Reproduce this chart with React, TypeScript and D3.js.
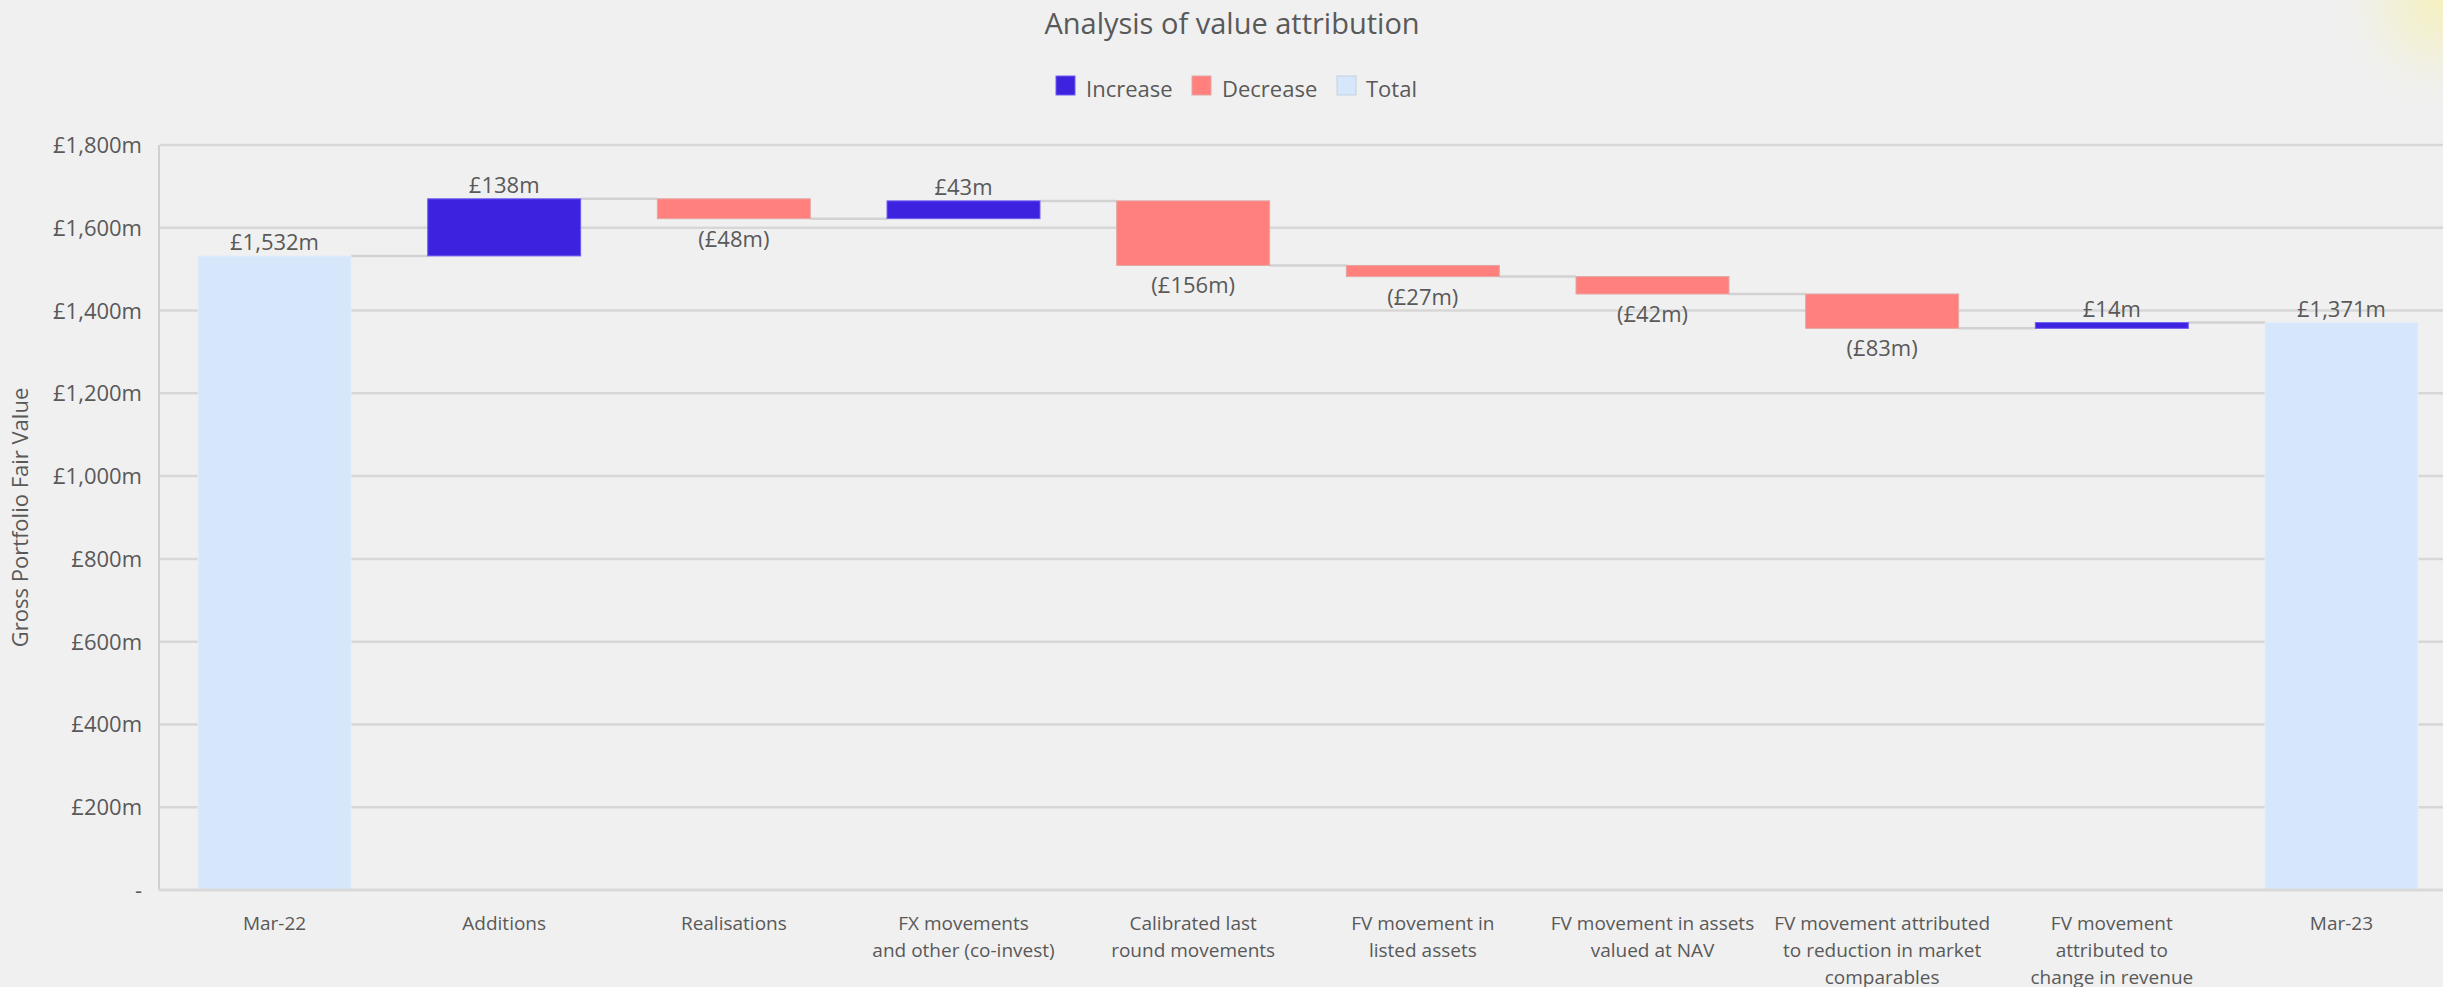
import React from "react";
import * as d3 from "d3";

// Waterfall of gross portfolio fair value, Mar-22 to Mar-23 (£m)
const categories: string[][] = [
  ["Mar-22"],
  ["Additions"],
  ["Realisations"],
  ["FX movements", "and other (co-invest)"],
  ["Calibrated last", "round movements"],
  ["FV movement in", "listed assets"],
  ["FV movement in assets", "valued at NAV"],
  ["FV movement attributed", "to reduction in market", "comparables"],
  ["FV movement", "attributed to", "change in revenue"],
  ["Mar-23"],
];
const values: number[] = [1532, 138, -48, 43, -156, -27, -42, -83, 14, 1371];
const kinds: string[] = ["total", "delta", "delta", "delta", "delta", "delta", "delta", "delta", "delta", "total"];
const yTicks: number[] = [0, 200, 400, 600, 800, 1000, 1200, 1400, 1600, 1800];
const legendItems: string[] = ["Increase", "Decrease", "Total"];

const W = 2443;
const H = 987;
const FONT = "'Open Sans', 'Noto Sans', sans-serif";
const TEXT = "#595959";
const COLORS: Record<string, string> = {
  Increase: "#3d23e0",
  Decrease: "#ff807c",
  Total: "#d6e7fc",
};
const STROKES: Record<string, string> = {
  Increase: "#6f5ef0",
  Decrease: "#e3a6a4",
  Total: "#e6eef8",
};

const fmtNum = d3.format(",");

export default function App() {
  const ids = categories.map((_, i) => String(i));
  const x = d3
    .scaleBand<string>()
    .domain(ids)
    .range([159, 2457])
    .paddingInner(0.334)
    .paddingOuter(0.17);
  const y = d3.scaleLinear().domain([0, 1800]).range([890, 145]);

  // running totals for each step
  let running = 0;
  const bars = values.map((v, i) => {
    let start: number, end: number, type: string;
    if (kinds[i] === "total") {
      start = 0;
      end = v;
      running = v;
      type = "Total";
    } else {
      start = running;
      end = running + v;
      running = end;
      type = v >= 0 ? "Increase" : "Decrease";
    }
    return { id: ids[i], value: v, start, end, type, kind: kinds[i] };
  });

  const bw = x.bandwidth();

  const label = (b: (typeof bars)[number]) => {
    if (b.kind === "total") return "£" + fmtNum(b.value) + "m";
    if (b.value < 0) return "(£" + fmtNum(-b.value) + "m)";
    return "£" + fmtNum(b.value) + "m";
  };

  const legendX = [1056, 1192, 1337];
  const legendTextX = [1086, 1222, 1366];

  return (
    <svg
      width={W}
      height={H}
      style={{ position: "absolute", left: 0, top: 0, display: "block" }}
      fontFamily={FONT}
    >
      <defs>
        <radialGradient id="glow" cx={W} cy={0} r={115} gradientUnits="userSpaceOnUse">
          <stop offset="0" stopColor="#f5f1bf" stopOpacity={1} />
          <stop offset="0.45" stopColor="#f3f0d2" stopOpacity={0.75} />
          <stop offset="1" stopColor="#f0f0f0" stopOpacity={0} />
        </radialGradient>
      </defs>
      <rect x={0} y={0} width={W} height={H} fill="#f0f0f0" />
      <rect x={W - 130} y={0} width={130} height={130} fill="url(#glow)" />

      {/* title */}
      <text x={1232} y={34} textAnchor="middle" fontSize={29} fill={TEXT}>
        Analysis of value attribution
      </text>

      {/* legend */}
      {legendItems.map((name, i) => (
        <g key={name}>
          <rect
            x={legendX[i]}
            y={76}
            width={19}
            height={19}
            fill={COLORS[name]}
            stroke={name === "Total" ? "#c2d0e0" : STROKES[name]}
            strokeWidth={1}
          />
          <text x={legendTextX[i]} y={97} fontSize={22} fill={TEXT}>
            {name}
          </text>
        </g>
      ))}

      {/* gridlines */}
      {yTicks.map((t) =>
        t === 0 ? null : (
          <line key={"g" + t} x1={160} x2={W} y1={y(t)} y2={y(t)} stroke="#d7d7d7" strokeWidth={2.5} />
        )
      )}

      {/* y tick labels */}
      {yTicks.map((t) => (
        <text
          key={"t" + t}
          x={142}
          y={y(t) + 8}
          textAnchor="end"
          fontSize={22}
          fill={TEXT}
        >
          {t === 0 ? "-" : "£" + fmtNum(t) + "m"}
        </text>
      ))}

      {/* y axis title */}
      <text
        transform={`translate(28, ${(y(0) + y(1800)) / 2}) rotate(-90)`}
        textAnchor="middle"
        fontSize={22}
        fill={TEXT}
      >
        Gross Portfolio Fair Value
      </text>

      {/* axis lines */}
      <line x1={159} x2={159} y1={y(1800)} y2={y(0)} stroke="#d0d0d0" strokeWidth={2} />

      {/* connectors between steps */}
      {bars.slice(0, -1).map((b, i) => {
        const next = bars[i + 1];
        return (
          <line
            key={"c" + i}
            x1={(x(b.id) as number) + bw}
            x2={x(next.id) as number}
            y1={y(b.end)}
            y2={y(b.end)}
            stroke="#d2d2d2"
            strokeWidth={2.5}
          />
        );
      })}

      {/* bars */}
      {bars.map((b) => {
        const top = y(Math.max(b.start, b.end));
        const bottom = y(Math.min(b.start, b.end));
        return (
          <rect
            key={"b" + b.id}
            x={x(b.id) as number}
            y={top}
            width={bw}
            height={Math.max(1, bottom - top)}
            fill={COLORS[b.type]}
            stroke={STROKES[b.type]}
            strokeWidth={1}
          />
        );
      })}

      <line x1={159} x2={W} y1={y(0)} y2={y(0)} stroke="#d9d9d9" strokeWidth={3} />

      {/* value labels */}
      {bars.map((b) => {
        const cx = (x(b.id) as number) + bw / 2;
        const below = b.type === "Decrease";
        const yy = below ? y(Math.min(b.start, b.end)) + 28 : y(Math.max(b.start, b.end)) - 6;
        return (
          <text key={"l" + b.id} x={cx} y={yy} textAnchor="middle" fontSize={22} fill={TEXT}>
            {label(b)}
          </text>
        );
      })}

      {/* category labels */}
      {categories.map((lines, i) => (
        <text
          key={"x" + i}
          x={(x(ids[i]) as number) + bw / 2}
          y={930}
          textAnchor="middle"
          fontSize={19}
          fill={TEXT}
        >
          {lines.map((ln, j) => (
            <tspan key={j} x={(x(ids[i]) as number) + bw / 2} dy={j === 0 ? 0 : 27}>
              {ln}
            </tspan>
          ))}
        </text>
      ))}
    </svg>
  );
}
